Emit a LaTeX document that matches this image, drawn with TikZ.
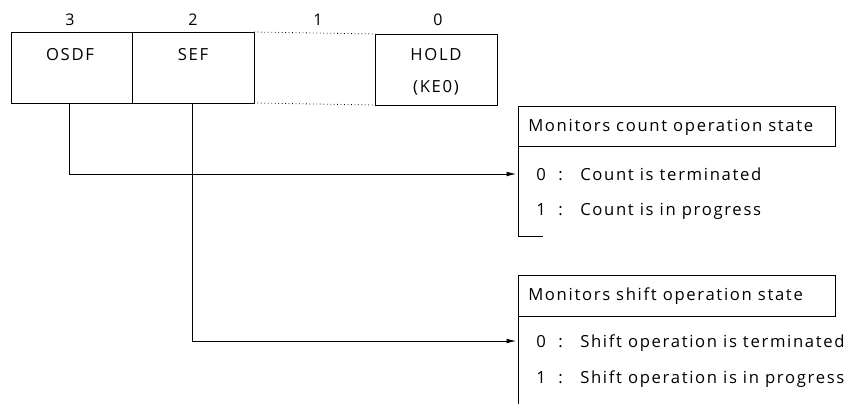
\documentclass[tikz,border=0pt]{standalone}
\usepackage{fontspec}
\setmainfont{Open Sans}[LetterSpace=10]
\usetikzlibrary{arrows.meta}
\begin{document}
\begin{tikzpicture}[x=0.75pt,y=-0.75pt,
  line/.style={draw=black,line width=0.6pt},
  txt/.style={font=\fontsize{12.5}{14}\selectfont,inner sep=0pt,anchor=base},
  ltxt/.style={txt,anchor=base west},
  num/.style={font=\fontsize{12}{14}\selectfont,inner sep=0pt,anchor=base},
  arr/.style={line,-{Latex[length=7pt,width=3.5pt]}}]
\useasboundingbox (0,0) rectangle (860,404);
% bit cells
\draw[line] (11,32) rectangle (132.5,103);
\draw[line] (132.5,32) rectangle (254,103);
\draw[line] (375.5,34) rectangle (497,105);
\coordinate (osdf) at (69,103);
\coordinate (sef) at (192,103);
\node[txt] (osdft) at (70,60) {OSDF};
\node[txt] (seft) at (193,60) {SEF};
\node[txt] (holdt) at (436,60) {HOLD};
\node[txt] (ke0t) at (436,92) {(KE0)};
% dotted bit 1
\draw[line,dotted] (254,32) -- (375.5,34);
\draw[line,dotted] (254,103) -- (375.5,105);
% bit numbers
\node[num] (n3) at (70,25) {3};
\node[num] (n2) at (193,25) {2};
\node[num] (n1) at (318,25) {1};
\node[num] (n0) at (438,25) {0};
% count description
\draw[line] (518,106) rectangle (835,146);
\node[ltxt] (ctitlet) at (528,131) {Monitors count operation state};
\coordinate (ctop) at (518,146);
\coordinate (cbot) at (518,236);
\draw[line] (ctop) -- (cbot) -- ++(25,0);
\node[ltxt] (c0n) at (536,180) {0};
\node[ltxt] (c0c) at (558,180) {:};
\node[ltxt] (c0t) at (580,180) {Count is terminated};
\node[ltxt] (c1n) at (536,215) {1};
\node[ltxt] (c1c) at (558,215) {:};
\node[ltxt] (c1t) at (580,215) {Count is in progress};
% shift description
\draw[line] (518,275) rectangle (835,316);
\node[ltxt] (stitlet) at (528,300) {Monitors shift operation state};
\coordinate (stop) at (518,316);
\coordinate (sbot) at (518,404);
\draw[line] (stop) -- (sbot);
\node[ltxt] (s0n) at (536,347) {0};
\node[ltxt] (s0c) at (558,347) {:};
\node[ltxt] (s0t) at (580,347) {Shift operation is terminated};
\node[ltxt] (s1n) at (536,383) {1};
\node[ltxt] (s1c) at (558,383) {:};
\node[ltxt] (s1t) at (580,383) {Shift operation is in progress};
% connectors
\coordinate (ctip) at (516,174);
\coordinate (stip) at (516,341);
\draw[arr] (osdf) |- (ctip);
\draw[arr] (sef) |- (stip);
\end{tikzpicture}
\end{document}
